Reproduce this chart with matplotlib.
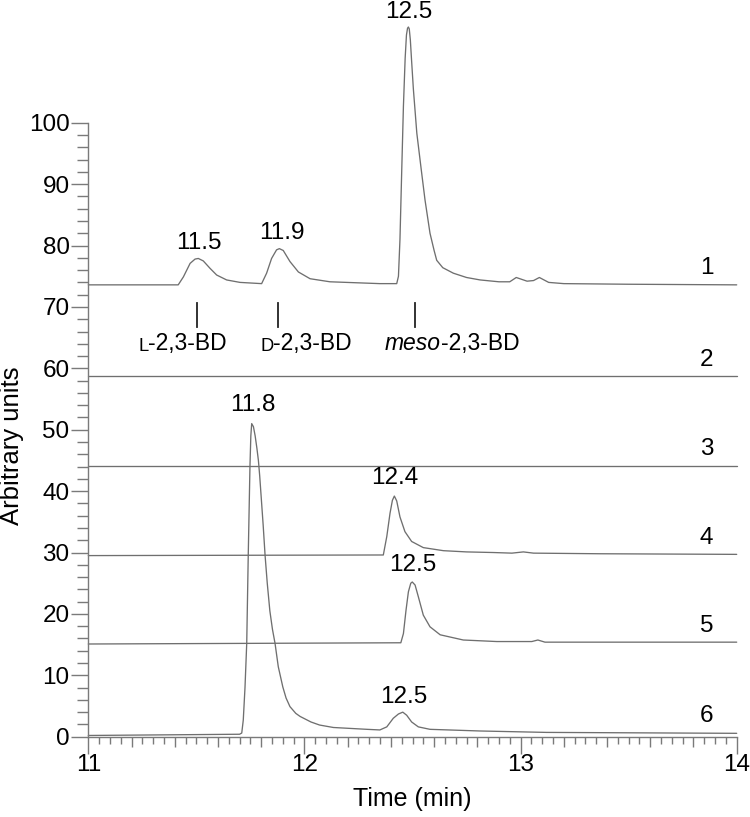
import numpy as np
import matplotlib
matplotlib.use("Agg")
import matplotlib.pyplot as plt
from matplotlib.ticker import FixedLocator, FuncFormatter

plt.rcParams['font.family'] = ['Liberation Sans', 'DejaVu Sans']

# ---------------- data ----------------
t1 = [11.0, 11.416, 11.440, 11.471, 11.494, 11.509, 11.532, 11.563, 11.594, 11.640,
      11.702, 11.802, 11.825, 11.848, 11.871, 11.884, 11.902, 11.933, 11.972, 12.026,
      12.118, 12.349, 12.427, 12.435, 12.442, 12.450, 12.458, 12.466, 12.472, 12.477,
      12.481, 12.485, 12.490, 12.496, 12.504, 12.520, 12.540, 12.558, 12.581, 12.600,
      12.612, 12.640, 12.689, 12.750, 12.813, 12.900, 12.950, 12.980, 13.030, 13.060,
      13.087, 13.130, 13.200, 13.500, 14.0]
y1 = [73.6, 73.6, 74.9, 77.1, 77.8, 77.9, 77.5, 76.3, 75.2, 74.4,
      74.0, 73.8, 75.5, 77.9, 79.3, 79.5, 79.2, 77.4, 75.7, 74.6,
      74.1, 73.8, 73.8, 75.0, 81.0, 92.0, 102.7, 110.5, 114.3, 115.4,
      115.6, 115.3, 113.5, 110.0, 105.5, 98.3, 92.5, 87.4, 82.0, 79.2,
      77.6, 76.4, 75.5, 74.8, 74.4, 74.1, 74.1, 74.8, 74.2, 74.3,
      74.8, 74.0, 73.8, 73.7, 73.6]

t2 = [11.0, 14.0]
y2 = [58.7, 58.7]

t3 = [11.0, 14.0]
y3 = [44.1, 44.1]

t4 = [11.0, 12.365, 12.381, 12.396, 12.407, 12.416, 12.427, 12.442, 12.465, 12.496,
      12.550, 12.643, 12.750, 12.874, 12.960, 13.013, 13.060, 13.368, 14.0]
y4 = [29.5, 29.6, 32.6, 36.4, 38.5, 39.2, 38.4, 35.8, 33.4, 31.8,
      30.8, 30.3, 30.1, 30.0, 29.9, 30.1, 29.9, 29.8, 29.7]

t5 = [11.0, 12.446, 12.458, 12.470, 12.481, 12.492, 12.499, 12.512, 12.527, 12.550,
      12.581, 12.628, 12.735, 12.890, 13.052, 13.080, 13.113, 13.5, 14.0]
y5 = [15.1, 15.3, 16.8, 20.6, 23.6, 25.0, 25.2, 24.7, 22.8, 19.8,
      17.9, 16.6, 15.75, 15.5, 15.5, 15.75, 15.4, 15.4, 15.4]

t6 = [11.0, 11.70, 11.710, 11.717, 11.725, 11.733, 11.740, 11.748, 11.752, 11.756,
      11.764, 11.772, 11.780, 11.787, 11.793, 11.800, 11.809, 11.818, 11.828, 11.840,
      11.852, 11.864, 11.879, 11.900, 11.915, 11.933, 11.960, 11.980, 12.030, 12.070,
      12.134, 12.290, 12.349, 12.381, 12.411, 12.435, 12.455, 12.473, 12.496, 12.527,
      12.581, 12.813, 13.12, 14.0]
y6 = [0.2, 0.4, 0.6, 2.7, 8.0, 15.2, 29.5, 44.1, 49.0, 51.0,
      50.5, 49.0, 47.0, 45.0, 42.5, 39.0, 34.5, 29.5, 25.0, 20.5,
      17.5, 15.2, 11.4, 8.1, 6.3, 4.9, 3.8, 3.3, 2.4, 1.9,
      1.5, 1.2, 1.1, 1.6, 3.0, 3.7, 4.0, 3.5, 2.4, 1.6,
      1.2, 0.93, 0.7, 0.55]

traces_t = [t1, t2, t3, t4, t5, t6]
traces_y = [y1, y2, y3, y4, y5, y6]
trace_names = ["1", "2", "3", "4", "5", "6"]
trace_baselines = [73.6, 58.7, 44.1, 29.6, 15.4, 0.7]

peak_labels = ["11.5", "11.9", "12.5", "11.8", "12.4", "12.5", "12.5"]
peak_label_x = [11.51, 11.895, 12.484, 11.759, 12.42, 12.50, 12.458]
peak_label_y = [80.4, 82.0, 118.0, 54.0, 42.1, 28.0, 6.5]

marker_x = [11.502, 11.879, 12.512]      # retention marks under trace 1
marker_y = [66.8, 70.6]
compound_x = [11.23, 11.795, 12.373]     # left edge of compound names
compound_y = 62.1

# ---------------- figure ----------------
W, H = 750, 817
fig = plt.figure(figsize=(W / 100, H / 100), dpi=100)
ax = fig.add_axes([88.3 / W, 1 - 736.7 / H, (736.7 - 88.3) / W, 736.7 / H])

line_col = '#6f6f6f'
spine_col = '#7a7a7a'

for tt, yy in zip(traces_t, traces_y):
    ax.plot(tt, yy, color=line_col, lw=0.95, clip_on=False,
            solid_joinstyle='round', solid_capstyle='round')

ax.set_xlim(11, 14)
ax.set_ylim(0, 120)

for s in ['top', 'right']:
    ax.spines[s].set_visible(False)
ax.spines['left'].set_bounds(0, 100)
ax.spines['bottom'].set_bounds(11, 14)
for s in ['left', 'bottom']:
    ax.spines[s].set_color(spine_col)
    ax.spines[s].set_linewidth(1.0)

tick_fs = 17.5
# y ticks
ax.yaxis.set_major_locator(FixedLocator(np.arange(0, 101, 10)))
ax.yaxis.set_minor_locator(FixedLocator(np.arange(0, 101, 2)))
ax.tick_params(axis='y', which='major', length=12, width=1.0, color=spine_col,
               labelsize=tick_fs, pad=1.5, direction='out')
ax.tick_params(axis='y', which='minor', length=8, width=1.0, color=spine_col,
               direction='out')

# x ticks: integer (long), 0.2 (medium), 0.05 (short)
xmaj = np.round(np.arange(11, 14.0001, 0.2), 2)
ax.xaxis.set_major_locator(FixedLocator(xmaj))
ax.xaxis.set_minor_locator(FixedLocator(np.round(np.arange(11, 14.0001, 0.05), 2)))
ax.xaxis.set_major_formatter(FuncFormatter(
    lambda v, p: f"{int(round(v))}" if abs(v - round(v)) < 1e-6 else ""))
ax.tick_params(axis='x', which='major', length=7.5, width=1.0, color=spine_col,
               labelsize=tick_fs, pad=5.0, direction='out')
ax.tick_params(axis='x', which='minor', length=5, width=1.0, color=spine_col,
               direction='out')
for tk, v in zip(ax.xaxis.get_major_ticks(), xmaj):
    if abs(v - round(v)) < 1e-6:
        tk.tick1line.set_markersize(12)

# axis labels
fig.text(412.5 / W, 1 - 799 / H, "Time (min)", ha='center', va='center', fontsize=18)
fig.text(12 / W, 1 - 446 / H, "Arbitrary units", ha='center', va='center',
         rotation=90, fontsize=18.5)

# trace numbers
for name, b in zip(trace_names, trace_baselines):
    ax.text(13.86, b + 0.9, name, ha='center', va='bottom', fontsize=17.5)

# peak labels
for lab, px, py in zip(peak_labels, peak_label_x, peak_label_y):
    ax.text(px, py, lab, ha='center', va='center', fontsize=17.5)

# retention marks
for mx in marker_x:
    ax.plot([mx, mx], marker_y, color='#222222', lw=1.3)

# compound names
fs = 16.5
tL = ax.text(compound_x[0], compound_y, "L", fontsize=fs * 0.8, ha='left', va='bottom')
ax.annotate("-2,3-BD", xy=(1, 0), xycoords=tL, ha='left', va='bottom', fontsize=fs)
tD = ax.text(compound_x[1], compound_y, "D", fontsize=fs * 0.8, ha='left', va='bottom')
ax.annotate("-2,3-BD", xy=(1, 0), xycoords=tD, ha='left', va='bottom', fontsize=fs)
tM = ax.text(compound_x[2], compound_y, "meso", fontsize=fs, style='italic',
             ha='left', va='bottom')
ax.annotate("-2,3-BD", xy=(1, 0), xycoords=tM, ha='left', va='bottom', fontsize=fs)

fig.savefig("out.png", dpi=100)
